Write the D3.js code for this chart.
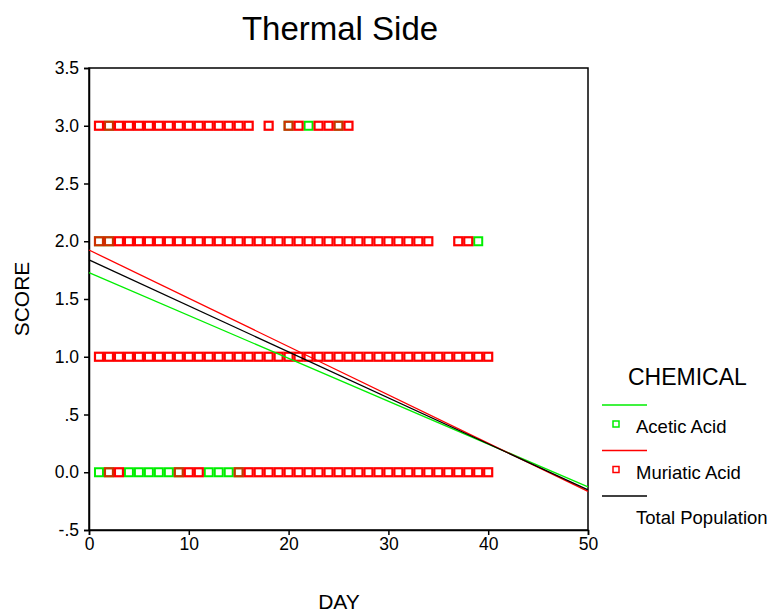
<!DOCTYPE html>
<html>
<head>
<meta charset="utf-8">
<script src="https://cdn.jsdelivr.net/npm/d3@7"></script>
<style>
  body { margin: 0; background: #fff; }
  text { font-family: "Liberation Sans", Arial, sans-serif; fill: #000; }
</style>
</head>
<body>
<div id="chart"></div>
<script>
var aceticDays = {
  3: [2, 20, 22, 25],
  2: [1, 2, 39],
  1: [],
  0: [1, 2, 4, 5, 6, 7, 8, 9, 12, 13, 14, 15]
};
var muriaticDays = {
  3: [1,2,3,4,5,6,7,8,9,10,11,12,13,14,15,16,18,20,21,23,24,25,26],
  2: [1,2,3,4,5,6,7,8,9,10,11,12,13,14,15,16,17,18,19,20,21,22,23,24,25,26,27,28,29,30,31,32,33,34,37,38],
  1: [1,2,3,4,5,6,7,8,9,10,11,12,13,14,15,16,17,18,19,20,21,22,23,24,25,26,27,28,29,30,31,32,33,34,35,36,37,38,39,40],
  0: [2,3,9,10,11,15,16,17,18,19,20,21,22,23,24,25,26,27,28,29,30,31,32,33,34,35,36,37,38,39,40]
};
var fitNames = ["Acetic Acid", "Muriatic Acid", "Total Population"];
var fitIntercepts = [1.728, 1.924, 1.838];
var fitSlopes = [-0.0371, -0.0418, -0.0398];
var fitColors = ["#00ee00", "#ff0000", "#000000"];
var xTicks = [0, 10, 20, 30, 40, 50];
var yTicks = [-0.5, 0, 0.5, 1, 1.5, 2, 2.5, 3, 3.5];
var yTickLabels = ["-.5", "0.0", ".5", "1.0", "1.5", "2.0", "2.5", "3.0", "3.5"];

var W = 771, H = 616;
var pLeft = 89, pRight = 588, pTop = 68, pBottom = 530;

var svg = d3.select("#chart").append("svg").attr("width", W).attr("height", H);

var x = d3.scaleLinear().domain([0, 50]).range([pLeft, pRight]);
var y = d3.scaleLinear().domain([-0.5, 3.5]).range([pBottom, pTop]);

// title
svg.append("text").text("Thermal Side").attr("x", 340).attr("y", 40)
  .attr("text-anchor", "middle").attr("font-size", 33);

// frame
svg.append("rect").attr("x", pLeft).attr("y", pTop).attr("width", pRight - pLeft).attr("height", pBottom - pTop)
  .attr("fill", "none").attr("stroke", "#000").attr("stroke-width", 1.5);

// axes
var yAxis = d3.axisLeft(y).tickValues(yTicks).tickSize(5).tickPadding(5)
  .tickFormat(function(d, i) { return yTickLabels[i]; });
var gy = svg.append("g").attr("transform", "translate(" + pLeft + ",0)").call(yAxis);
var xAxis = d3.axisBottom(x).tickValues(xTicks).tickSize(5).tickPadding(3);
var gx = svg.append("g").attr("transform", "translate(0," + pBottom + ")").call(xAxis);
[gy, gx].forEach(function(g) {
  g.select(".domain").attr("stroke-width", 1.5);
  g.selectAll(".tick line").attr("stroke-width", 1.5);
  g.selectAll("text").attr("font-size", 17.5).attr("font-family", "Liberation Sans, Arial, sans-serif");
});

// axis titles
svg.append("text").text("SCORE").attr("font-size", 21).attr("text-anchor", "middle")
  .attr("transform", "translate(29,299) rotate(-90)");
svg.append("text").text("DAY").attr("font-size", 21).attr("text-anchor", "middle")
  .attr("x", 339).attr("y", 609);

// points
function toPoints(obj) {
  var pts = [];
  Object.keys(obj).forEach(function(k) {
    obj[k].forEach(function(d) { pts.push({ day: d, score: +k }); });
  });
  return pts;
}
var s = 8;
svg.append("g").selectAll("rect").data(toPoints(aceticDays)).enter().append("rect")
  .attr("x", function(d) { return x(d.day) - s / 2; })
  .attr("y", function(d) { return y(d.score) - s / 2; })
  .attr("width", s).attr("height", s)
  .attr("fill", "none").attr("stroke", "#00ee00").attr("stroke-width", 2);
svg.append("g").selectAll("rect").data(toPoints(muriaticDays)).enter().append("rect")
  .attr("x", function(d) { return x(d.day) - s / 2; })
  .attr("y", function(d) { return y(d.score) - s / 2; })
  .attr("width", s).attr("height", s)
  .attr("fill", "none").attr("stroke", "#ff0000").attr("stroke-width", 2.2)
  .attr("stroke-opacity", function(d) {
    return aceticDays[d.score].indexOf(d.day) >= 0 ? 0.8 : 1;
  });

// fit lines
fitNames.forEach(function(n, i) {
  svg.append("line")
    .attr("x1", x(0)).attr("y1", y(fitIntercepts[i]))
    .attr("x2", x(50)).attr("y2", y(fitIntercepts[i] + fitSlopes[i] * 50))
    .attr("stroke", fitColors[i]).attr("stroke-width", 1.3);
});

// legend
var lg = svg.append("g");
lg.append("text").text("CHEMICAL").attr("x", 628).attr("y", 385).attr("font-size", 23);
fitNames.forEach(function(n, i) {
  var ly = 405 + i * 45.5;
  lg.append("line").attr("x1", 602).attr("x2", 647).attr("y1", ly).attr("y2", ly)
    .attr("stroke", fitColors[i]).attr("stroke-width", 1.5);
  if (i < 2) {
    lg.append("rect").attr("x", 613).attr("y", ly + 16).attr("width", 6).attr("height", 6)
      .attr("fill", "none").attr("stroke", fitColors[i]).attr("stroke-width", 1.5);
  }
  lg.append("text").text(n).attr("x", 636).attr("y", ly + 28).attr("font-size", 18.5);
});
</script>
</body>
</html>
